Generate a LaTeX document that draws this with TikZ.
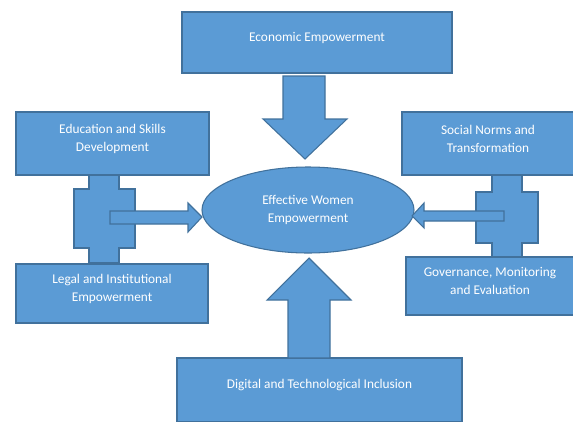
\documentclass[tikz,border=0pt]{standalone}
\usepackage{fontspec}
\setmainfont{Carlito}
\usetikzlibrary{fit,shapes.geometric}
\definecolor{boxblue}{HTML}{5B9BD5}
\definecolor{edgeblue}{HTML}{41719C}
\tikzset{
  box/.style={draw=edgeblue, fill=boxblue, text=white, align=center, inner sep=0pt, line width=0.8pt, font=\fontsize{10}{13.5}\selectfont},
  blockarrow/.style={draw=edgeblue, fill=boxblue, line width=0.8pt}
}
\begin{document}
\begin{tikzpicture}[x=0.75pt,y=-0.75pt]
\useasboundingbox (0,0) rectangle (573,421);
\node (econ) [box, fit={(182,12) (452,73)}] {Economic Empowerment};
\node (edu) [box, fit={(16,112) (209,175)}] {Education and Skills\\Development};
\node (legal) [box, fit={(16,264) (208,323)}] {Legal and Institutional\\Empowerment};
\node (social) [box, fit={(402,112) (574,175)}] {Social Norms and\\Transformation};
\node (gov) [box, fit={(406,257) (574,315)}] {Governance, Monitoring\\and Evaluation};
\node (digital) [box, fit={(177,358) (462,422)}] {Digital and Technological Inclusion};
\draw[blockarrow] (89,175) -- (119,175) -- (119,189) -- (135,189) -- (135,248) -- (119,248) -- (119,263) -- (89,263) -- (89,248) -- (74,248) -- (74,189) -- (89,189) -- cycle;
\draw[blockarrow] (492,175) -- (522,175) -- (522,192) -- (538,192) -- (538,243) -- (522,243) -- (522,257) -- (492,257) -- (492,243) -- (476,243) -- (476,192) -- (492,192) -- cycle;
\node (eff) [box, ellipse, minimum width=159pt, minimum height=64.5pt] at (308,210) {Effective Women\\Empowerment};
\draw[blockarrow] (283,76) -- (325,76) -- (325,119) -- (347,119) -- (305,159) -- (263,119) -- (283,119) -- cycle;
\draw[blockarrow] (288,358) -- (330,358) -- (330,300) -- (351,300) -- (309,258) -- (267,300) -- (288,300) -- cycle;
\draw[blockarrow] (110,211) -- (188,211) -- (188,203) -- (202,217) -- (188,232) -- (188,224) -- (110,224) -- cycle;
\draw[blockarrow] (504,211) -- (424,211) -- (424,203) -- (412,216) -- (424,228) -- (424,221) -- (504,221) -- cycle;
\end{tikzpicture}
\end{document}
